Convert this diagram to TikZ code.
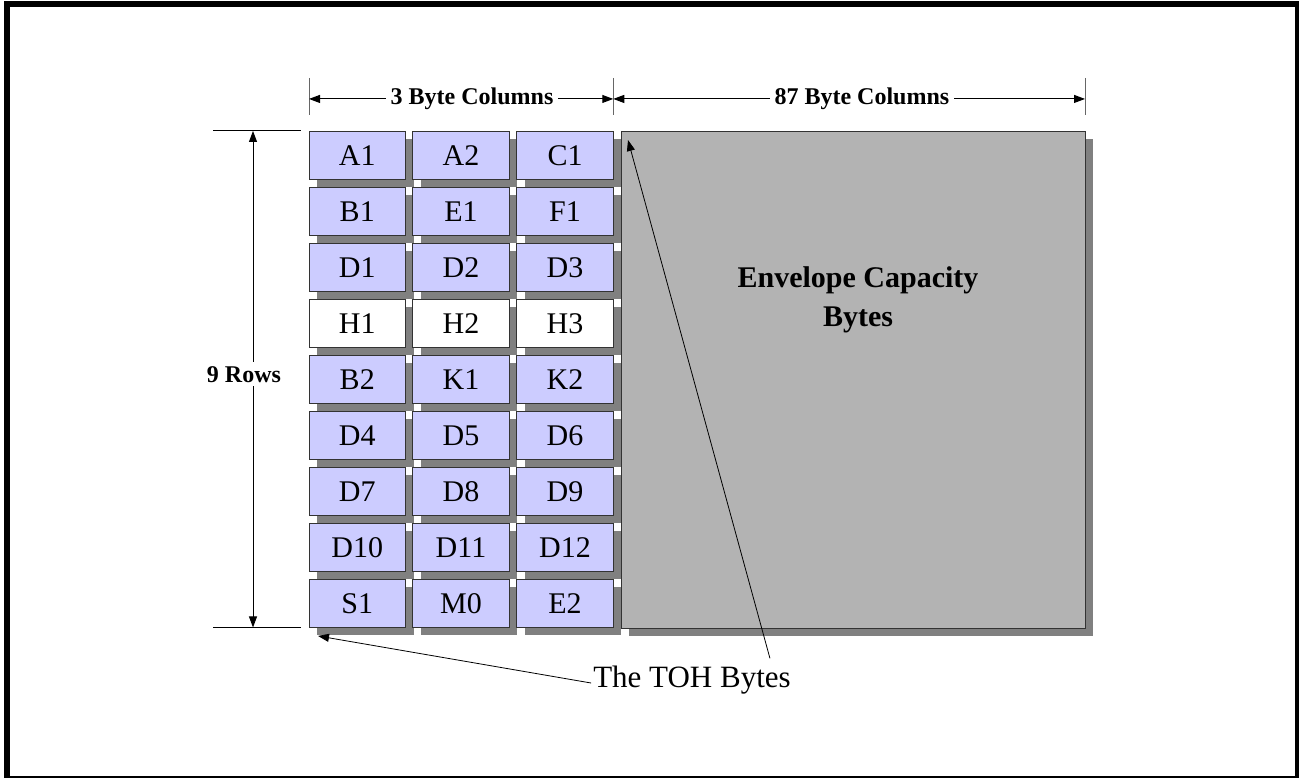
\documentclass[tikz,border=0pt]{standalone}
\usepackage{fontspec}
\setmainfont{Liberation Serif}
\usetikzlibrary{arrows.meta,calc,positioning,shadows}
\definecolor{tohblue}{HTML}{CCCCFF}
\definecolor{shade}{HTML}{808080}
\definecolor{spegray}{HTML}{B3B3B3}

\begin{document}
\begin{tikzpicture}[x=1pt,y=-1pt,>={Triangle[length=11pt,width=8pt]},
  byte/.style={draw=black!80,line width=0.8pt,outer sep=0pt,inner sep=0pt,
    minimum width=96.5pt,minimum height=48.5pt,font=\fontsize{30}{30}\selectfont,
    text height=20pt,text depth=0pt,
    drop shadow={shadow xshift=8pt,shadow yshift=-8pt,fill=shade,opacity=1}},
  tick/.style={black!60,line width=1pt},
  dim/.style={<->,line width=1pt},
  dimlabel/.style={fill=white,inner xsep=5pt,inner ysep=3pt,font=\bfseries\fontsize{24}{24}\selectfont}]
  \useasboundingbox (0,0) rectangle (1299,778);
  % frame
  \draw[line width=6pt] (7,778) -- (7,4.5) -- (1298,4.5) -- (1298,778);
  \draw[line width=1.5pt] (4,777) -- (1299,777);
  % overhead bytes
  \foreach \a/\b/\c/\f [count=\r from 0] in {A1/A2/C1/tohblue, B1/E1/F1/tohblue,
      D1/D2/D3/tohblue, H1/H2/H3/white, B2/K1/K2/tohblue, D4/D5/D6/tohblue,
      D7/D8/D9/tohblue, D10/D11/D12/tohblue, S1/M0/E2/tohblue} {
    \node[byte,fill=\f] (\a) at (357.25,155.2+56*\r) {\a};
    \node[byte,fill=\f] (\b) at (461,155.2+56*\r) {\b};
    \node[byte,fill=\f] (\c) at (565,155.2+56*\r) {\c};
  }
  % payload
  \node[draw=black!80,line width=0.8pt,fill=spegray,outer sep=0pt,
    minimum width=464pt,minimum height=497pt,
    drop shadow={shadow xshift=8pt,shadow yshift=-8pt,fill=shade,opacity=1}]
    (spe) at (853,379.5) {};
  \node[font=\bfseries\fontsize{30}{39}\selectfont,align=center] (env) at (858,300)
    {Envelope Capacity\\Bytes};
  % column dimensions
  \coordinate (tk1) at ($(A1.north west)+(0,-32)$);
  \coordinate (tk2) at (C1.north east |- tk1);
  \coordinate (tk3) at (spe.north east |- tk1);
  \foreach \t in {tk1,tk2,tk3}
    \draw[tick] ($(\t)+(0,-21)$) -- ($(\t)+(0,16)$);
  \draw[dim] (tk1) -- node[dimlabel,pos=0.536] (c3) {3 Byte Columns} (tk2);
  \draw[dim] (tk2) -- node[dimlabel,pos=0.527] (c87) {87 Byte Columns} (tk3);
  % row dimension
  \coordinate (lt1) at ($(A1.north west)+(-56,0)$);
  \coordinate (lt2) at ($(S1.south west)+(-56,0)$);
  \foreach \t in {lt1,lt2}
    \draw[tick,black] ($(\t)+(-40,0)$) -- ($(\t)+(48,0)$);
  \draw[dim] (lt1) -- node[dimlabel,pos=0.49,xshift=-9pt,inner xsep=2pt,inner ysep=4pt] (rows) {9 Rows} (lt2);
  % pointer label
  \node[font=\fontsize{31}{31}\selectfont,inner sep=0pt,anchor=base] (toh) at (692,687) {The TOH Bytes};
  \coordinate (s1c) at ($(S1.south west)+(9,8.5)$);
  \coordinate (spec) at ($(spe.north west)+(7,9)$);
  \draw[->,line width=0.8pt] ($(toh.base west)+(-2,-4)$) -- (s1c);
  \draw[->,line width=0.8pt] ($(toh.north east)+(-21,-7)$) -- (spec);
\end{tikzpicture}
\end{document}
